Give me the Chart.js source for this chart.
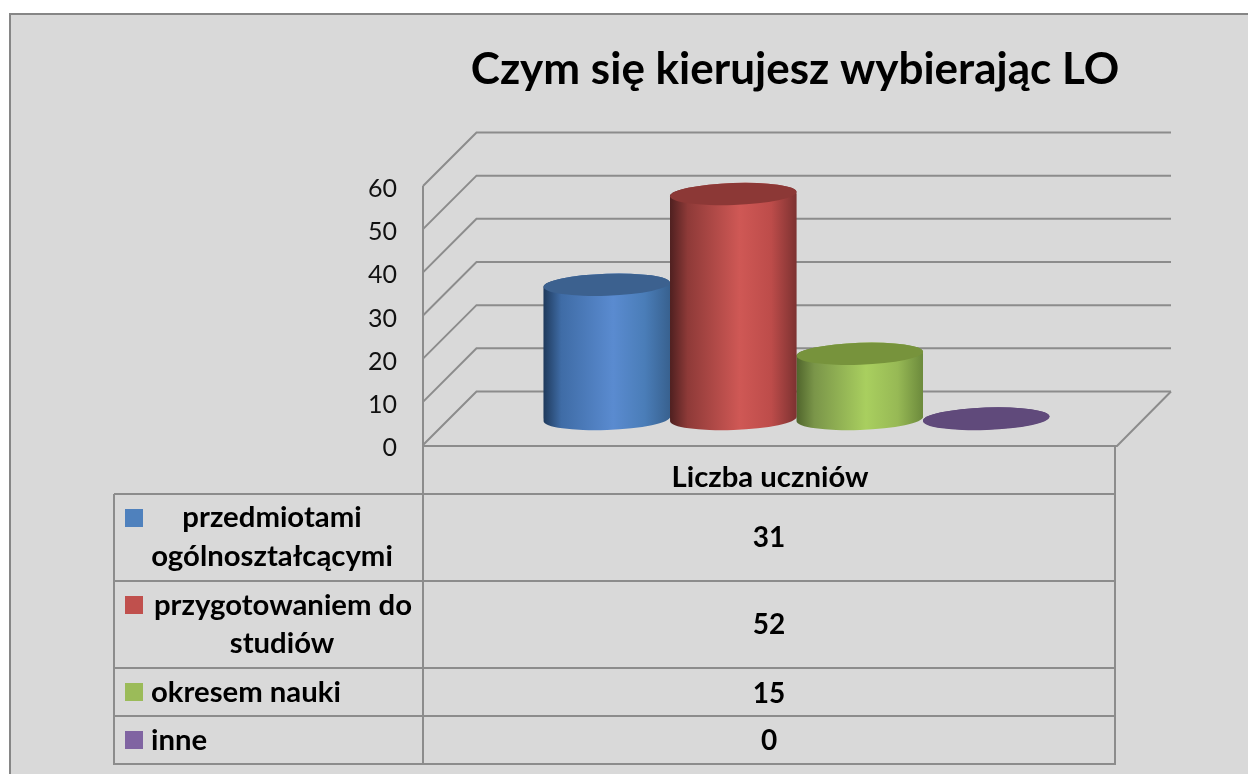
<!DOCTYPE html>
<html><head><meta charset="utf-8">
<style>html,body{margin:0;padding:0;background:#fff}canvas{display:block}</style>
<script src="https://cdn.jsdelivr.net/npm/chart.js@4"></script>
</head><body><canvas id="c" width="1248" height="774"></canvas>
<script>
const titleText = 'Czym się kierujesz wybierając LO';
const categories = ['Liczba uczniów'];
const seriesNames = ['przedmiotami ogólnokształcącymi','przygotowaniem do studiów','okresem nauki','inne'];
const legendLines = [['przedmiotami','ogólnoształcącymi'],['przygotowaniem do','studiów'],['okresem nauki'],['inne']];
const values = [31, 52, 15, 0];
const swatch = ['#4f81bd','#c0504d','#9bbb59','#8064a2'];
const capColors = ['#3c618f','#8c3836','#77933c','#604a7b'];
const bodyStops = [
  ['#1f3a5c','#3f6ca6','#5a8bd0','#4a7db8','#38618f'],
  ['#4f2020','#8e3a38','#cf5855','#bd4c4a','#7d3231'],
  ['#50652c','#7a9549','#a9cf5f','#97b955','#6c8a3c'],
  ['#604a7b','#604a7b','#604a7b','#604a7b','#604a7b']
];
const GRID = '#8c8c8c', DEPTH = 53.5, MID = 26.5, RY = 11, TILT = -0.035;
const FONT = 'Lato, Carlito, sans-serif';

function cyl(ctx, el){
  const rx = el.width/2;
  return {cx: el.x, rx, yt: el.y, yb: el.base + 0.5};
}
const scene = {
  id:'scene',
  beforeDraw(chart){
    const c = chart.ctx, y = chart.scales.y, a = chart.chartArea;
    c.save();
    c.fillStyle='#fff'; c.fillRect(0,0,1248,774);
    c.fillStyle='#d9d9d9'; c.fillRect(10,14,1238,760);
    c.strokeStyle='#868686'; c.lineWidth=2;
    c.beginPath(); c.moveTo(10,774); c.lineTo(10,14); c.lineTo(1248,14); c.stroke();
    // walls
    c.strokeStyle=GRID; c.lineWidth=2;
    const backR = a.right + DEPTH + 0.5;
    y.ticks.forEach(t=>{
      const p = y.getPixelForValue(t.value);
      c.beginPath(); c.moveTo(a.left,p); c.lineTo(a.left+DEPTH,p-DEPTH); c.lineTo(backR,p-DEPTH); c.stroke();
    });
    c.beginPath(); c.moveTo(a.left,a.top); c.lineTo(a.left,764); c.stroke();
    c.beginPath(); c.moveTo(a.left,a.bottom+1); c.lineTo(a.right,a.bottom+1); c.lineTo(backR,a.bottom-DEPTH); c.stroke();
    // table
    const tl=114, tr=1115, rows=[494,581,668,716,764];
    rows.forEach(r=>{c.beginPath(); c.moveTo(tl,r); c.lineTo(tr,r); c.stroke();});
    c.beginPath(); c.moveTo(tl,494); c.lineTo(tl,765); c.moveTo(tr,446); c.lineTo(tr,765); c.stroke();
    // table content
    c.fillStyle='#000'; c.font='bold 28px '+FONT; c.textBaseline='middle';
    const valY=[538,625,694,741];
    c.textAlign='center';
    values.forEach((v,i)=>c.fillText(String(v),769,valY[i]));
    const keyY=[509,596,683,731];
    const lineY=[[518,557],[606,644],[693],[741]];
    const lineX=[[272,272],[283,282],[151],[151]];
    c.font='bold 29.3px '+FONT;
    legendLines.forEach((lines,i)=>{
      c.fillStyle=swatch[i]; c.fillRect(125,keyY[i],18,18);
      c.fillStyle='#000';
      lines.forEach((t,j)=>{
        c.textAlign = lines.length>1?'center':'left';
        c.fillText(t,lineX[i][j],lineY[i][j]);
      });
    });
    c.restore();
  },
  afterLayout(chart){
    const t = chart.titleBlock;
    t.left = 795-500; t.right = 795+500;
  },
  beforeDatasetDraw(chart,args){
    const c = chart.ctx, i = args.index, el = args.meta.data[0];
    const g = cyl(c,el);
    c.save();
    c.translate(MID,-MID);
    const gr = c.createLinearGradient(g.cx-g.rx,0,g.cx+g.rx,0);
    bodyStops[i].forEach((s,k)=>gr.addColorStop([0,.14,.55,.8,1][k],s));
    el.options = Object.assign({},el.options,{backgroundColor:gr});
    c.fillStyle = gr;
    c.beginPath();
    c.ellipse(g.cx,g.yt,g.rx,RY,TILT,Math.PI,Math.PI*2);
    c.ellipse(g.cx,g.yb,g.rx,RY,TILT,0,Math.PI);
    c.closePath(); c.fill(); c.clip();
  },
  afterDatasetDraw(chart,args){
    const c = chart.ctx, i = args.index, el = args.meta.data[0];
    c.restore();
    const g = cyl(c,el);
    c.save();
    c.translate(MID,-MID);
    c.fillStyle = capColors[i];
    c.beginPath(); c.ellipse(g.cx,g.yt,g.rx,RY,TILT,0,Math.PI*2); c.fill();
    c.restore();
  }
};

new Chart(document.getElementById('c'),{
  type:'bar',
  data:{
    labels:categories,
    datasets:seriesNames.map((n,i)=>({
      label:n, data:[values[i]], backgroundColor:swatch[i], borderWidth:0,
      clip:false, categoryPercentage:0.729, barPercentage:1
    }))
  },
  options:{
    responsive:false, animation:false,
    layout:{padding:{left:0,right:131,top:0,bottom:0}},
    plugins:{
      legend:{display:false}, tooltip:{enabled:false},
      title:{display:true,text:titleText,color:'#000',align:'center',
        font:{family:FONT,size:44,weight:'bold',lineHeight:1.2},
        padding:{top:43,bottom:90.2}}
    },
    scales:{
      x:{
        grid:{display:false,drawTicks:false}, border:{display:false},
        ticks:{font:{family:FONT,size:29.3,weight:'bold',lineHeight:1.2},color:'#000',padding:15,maxRotation:0,autoSkip:false},
        afterFit(s){s.height=329;}
      },
      y:{
        min:0,max:60,
        grid:{display:false,drawTicks:false}, border:{display:false},
        ticks:{stepSize:10,font:{family:FONT,size:25},color:'#111',padding:26,labelOffset:3},
        afterFit(s){s.width=423;}
      }
    }
  },
  plugins:[scene]
});
</script></body></html>
